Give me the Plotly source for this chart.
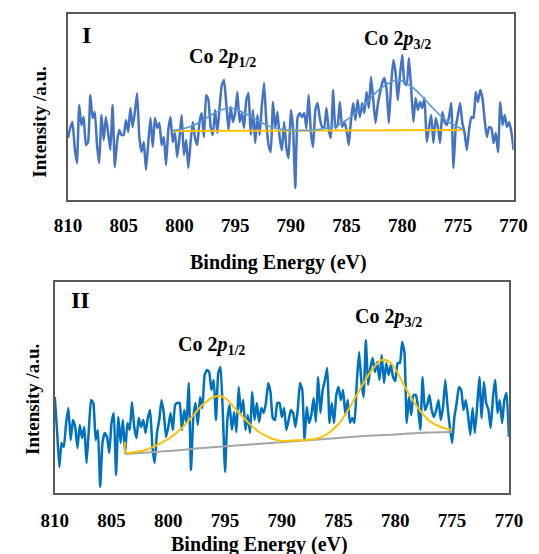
import plotly.graph_objects as go

# ---------------- data ----------------
# sampling grid of the spectra (binding energy, eV), 0.2 eV step
energy = [round(810 - 0.2 * k, 1) for k in range(201)]
tick_values = [810, 805, 800, 795, 790, 785, 780, 775, 770]

# Panel I raw spectrum (a.u.)
intensity_I = [
    62, 72, 78, 52, 37, 95, 75, 83, 55, 58,
    105, 82, 88, 55, 37, 85, 60, 83, 67, 50,
    95, 33, 58, 70, 65, 65, 80, 68, 92, 73,
    88, 107, 63, 48, 58, 30, 57, 82, 53, 82,
    72, 77, 55, 63, 35, 70, 83, 58, 67, 43,
    62,
    85, 45, 60, 32, 58, 78, 62, 55, 78,
    87, 63, 105, 100, 73, 65, 90, 67, 92, 115,
    120, 97, 70, 93, 78, 87, 108, 78, 87, 72,
    100, 107, 65, 90, 57, 85, 65, 95, 117, 78,
    55, 48, 98, 72, 88, 62, 50, 78, 52, 42,
    90,
    72, 12, 82, 87, 83, 87, 72, 105, 68,
    53, 90, 97, 82, 73, 73, 92, 70, 62, 110,
    72, 75, 98, 73, 78, 70, 55, 80, 97, 80,
    100, 83, 97, 87, 108, 92, 123, 100, 77, 95,
    107, 117, 122, 110, 77, 115, 140, 128, 100, 125,
    145,
    117, 115, 142, 112, 78, 102, 90, 98, 92,
    102, 58, 72, 85, 57, 82, 73, 57, 88, 78,
    75, 83, 97, 32, 72, 85, 97, 77, 67, 50,
    70, 83, 82, 108, 98, 110, 102, 80, 63, 73,
    72, 57, 67, 48, 98, 75, 85, 73, 78, 68,
    50,
]
fit_I_energy = [800.6, 800, 799, 798, 797, 796, 795.5, 795, 794, 793, 792, 791, 790,
                789, 788, 787, 786, 785, 784, 783, 782, 781, 780.5, 780, 779, 778,
                777, 776, 775, 774.6]
fit_I_values = [69.5, 70.5, 73.5, 79, 86, 91, 92, 91, 86, 79.5, 74, 71, 69.5,
                69.5, 70, 71.5, 74, 80, 89, 100, 111, 118, 120, 119, 112, 101,
                89, 79, 73, 71]
base_I_energy = [800.6, 774.6]
base_I_values = [69, 70]

# Panel II raw spectrum (a.u.)
intensity_II = [
    96, 63, 26, 50, 46, 70, 85, 53, 73, 66,
    45, 68, 55, 66, 30, 63, 93, 90, 53, 63,
    6, 50, 60, 56, 40, 70, 80, 18, 76, 50,
    73, 40, 70, 63, 91, 66, 55, 75, 66, 73,
    60, 75, 83, 46, 30, 60, 73, 93, 80, 56,
    66, 80, 63, 88, 90, 90, 63, 83, 70, 110,
    23, 75, 90, 68, 96, 85, 118, 123, 121, 103,
    113, 73, 120, 126, 81, 21, 73, 88, 63, 81,
    61, 106, 80, 93, 63, 78, 60, 101, 73, 90,
    71, 85, 80, 90, 110, 101, 75, 73, 90, 90,
    76,
    85, 63, 73, 83, 80, 66, 83, 110, 103,
    53, 86, 70, 78, 95, 71, 116, 80, 103, 113,
    125, 70, 90, 70, 98, 106, 93, 103, 78, 93,
    70, 75, 70, 110, 141, 113, 96, 153, 108, 125,
    135, 121, 131, 113, 138, 110, 130, 118, 128, 116,
    112,
    130, 130, 151, 141, 70, 96, 78, 98, 98,
    86, 63, 116, 83, 88, 98, 83, 76, 83, 93,
    73, 86, 113, 86, 66, 50, 76, 90, 106, 103,
    83, 93, 78, 58, 85, 60, 86, 116, 75, 111,
    90, 83, 65, 96, 113, 80, 93, 70, 93, 100,
    56,
]
fit_II_energy = [803.8, 803.75, 803, 802, 801, 800, 799, 798, 797, 796, 795.6, 795,
                 794, 793, 792, 791, 790, 789, 788, 787, 786, 785, 784, 783, 782,
                 781.2, 780.5, 780, 779, 778, 777, 776, 775]
fit_II_values = [51, 40.5, 41, 43, 48, 54, 63, 75, 88, 96, 97, 95,
                 83, 71, 61, 55, 52, 52.5, 53, 54, 59, 69, 86, 106, 124,
                 133, 131, 124, 103, 85, 72, 66, 63]
base_II_energy = [803.8, 800, 797, 794, 791, 788, 785, 782, 780, 778, 775]
base_II_values = [39, 42, 45, 47.5, 50, 52.5, 55, 57.5, 58.5, 60, 61]

# ---------------- figure ----------------
W, H = 539, 554
SERIF = "Liberation Serif"

fig = go.Figure()

fig.add_trace(go.Scatter(x=energy, y=intensity_I, mode="lines",
                         line=dict(color="#4472c4", width=2.5, shape="spline", smoothing=0.4),
                         xaxis="x", yaxis="y", showlegend=False))
fig.add_trace(go.Scatter(x=base_I_energy, y=base_I_values, mode="lines",
                         line=dict(color="#ffc000", width=2),
                         xaxis="x", yaxis="y", showlegend=False))
fig.add_trace(go.Scatter(x=fit_I_energy, y=fit_I_values, mode="lines",
                         line=dict(color="#5b9bd5", width=1.6, shape="spline"),
                         xaxis="x", yaxis="y", showlegend=False))

fig.add_trace(go.Scatter(x=energy, y=intensity_II, mode="lines",
                         line=dict(color="#0070c0", width=2.5, shape="spline", smoothing=0.4),
                         xaxis="x2", yaxis="y2", showlegend=False))
fig.add_trace(go.Scatter(x=base_II_energy, y=base_II_values, mode="lines",
                         line=dict(color="#a5a5a5", width=2, shape="spline"),
                         xaxis="x2", yaxis="y2", showlegend=False))
fig.add_trace(go.Scatter(x=fit_II_energy, y=fit_II_values, mode="lines",
                         line=dict(color="#ffc000", width=2, shape="spline"),
                         xaxis="x2", yaxis="y2", showlegend=False))

tickfont = dict(family=SERIF, size=19, color="#000000", weight="bold")
xcommon = dict(range=[810, 770], tickvals=tick_values, ticks="", showgrid=False,
               zeroline=False, showline=True, mirror=True, linecolor="#595959",
               linewidth=1.5, tickfont=tickfont)
ycommon = dict(showticklabels=False, ticks="", showgrid=False, zeroline=False,
               showline=True, mirror=True, linecolor="#595959", linewidth=1.5)


def px(x):
    return x / W


def py(y):
    return 1 - y / H


fig.update_layout(
    width=W, height=H,
    margin=dict(l=0, r=0, t=0, b=0),
    paper_bgcolor="white", plot_bgcolor="white",
    xaxis=dict(domain=[px(57), px(527)], anchor="y", ticklabelstandoff=7, **xcommon),
    yaxis=dict(domain=[py(200), py(14)], anchor="x", range=[0, 186], **ycommon),
    xaxis2=dict(domain=[px(43), px(522)], anchor="y2", ticklabelstandoff=9, **xcommon),
    yaxis2=dict(domain=[py(493), py(282)], anchor="x2", range=[0, 211], **ycommon),
)

lab = dict(family=SERIF, color="#000000")
ann = [
    # axis titles
    dict(x=px(279), y=py(262), text="<b>Binding Energy (eV)</b>", font=dict(size=20, **lab)),
    dict(x=px(259), y=py(544), text="<b>Binding Energy (eV)</b>", font=dict(size=20, **lab)),
    dict(x=px(26), y=py(122), text="<b>Intensity /a.u.</b>", textangle=-90, font=dict(size=19, **lab)),
    dict(x=px(19), y=py(400), text="<b>Intensity /a.u.</b>", textangle=-90, font=dict(size=19, **lab)),
    # panel labels
    dict(x=px(76), y=py(35), text="<b>I</b>", font=dict(size=24, **lab)),
    dict(x=px(70), y=py(300), text="<b>II</b>", font=dict(size=24, **lab)),
    # peak labels
    dict(x=px(220), y=py(57), text="<b>Co 2<i>p</i><sub>1/2</sub></b>", font=dict(size=20, **lab)),
    dict(x=px(405), y=py(39), text="<b>Co 2<i>p</i><sub>3/2</sub></b>", font=dict(size=20, **lab)),
    dict(x=px(208), y=py(345), text="<b>Co 2<i>p</i><sub>1/2</sub></b>", font=dict(size=20, **lab)),
    dict(x=px(395), y=py(317), text="<b>Co 2<i>p</i><sub>3/2</sub></b>", font=dict(size=20, **lab)),
]
for a in ann:
    a.update(xref="paper", yref="paper", showarrow=False, xanchor="center", yanchor="middle")
fig.update_layout(annotations=ann)

fig.write_html("out.html")
